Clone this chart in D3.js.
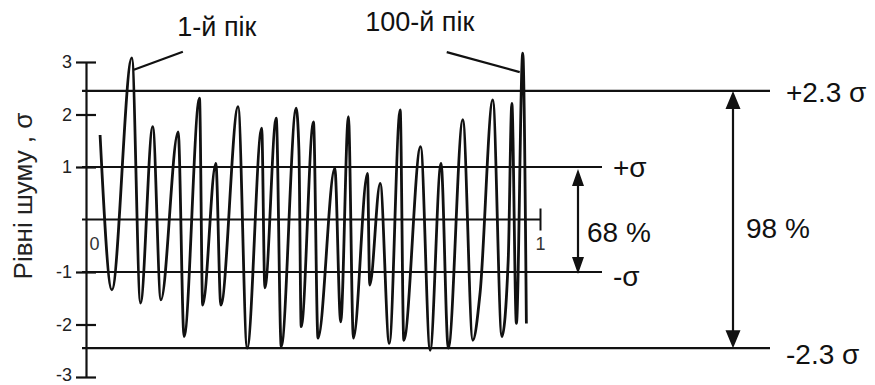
<!DOCTYPE html>
<html>
<head>
<meta charset="utf-8">
<script src="https://cdn.jsdelivr.net/npm/d3@7"></script>
<style>
  body { margin: 0; background: #fff; }
  svg { display: block; font-family: Arial, "Liberation Sans", sans-serif; }
</style>
</head>
<body>
<div id="chart"></div>
<script>
// шумовий процес: моменти часу (частка інтервалу 0..1) та рівні шуму, σ
const times = [0.031, 0.057, 0.101, 0.120, 0.147, 0.165, 0.203, 0.216, 0.250, 0.257,
    0.286, 0.297, 0.335, 0.355, 0.387, 0.394, 0.419, 0.430, 0.463, 0.469,
    0.474, 0.501, 0.511, 0.548, 0.561, 0.578, 0.589, 0.620, 0.625, 0.648,
    0.668, 0.692, 0.700, 0.737, 0.758, 0.782, 0.798, 0.830, 0.852, 0.868,
    0.896, 0.916, 0.930, 0.938, 0.948, 0.962, 0.970]
const levels = [1.61, -1.34, 3.08, -1.59, 1.77, -1.53, 1.67, -2.23, 2.31, -1.63,
    1.07, -1.63, 2.15, -2.45, 1.74, -1.30, 1.93, -2.42, 2.12, 1.32,
    -2.04, 1.86, -2.26, 0.98, -1.95, 1.96, -2.26, 0.88, -1.25, 0.69,
    -2.36, 2.09, -2.30, 1.39, -2.49, 1.07, -2.45, 1.90, -2.30, -1.40,
    2.28, -2.23, -0.77, 2.21, -1.98, 3.17, -1.98]

// осі
const yTicks = [-3, -2, -1, 1, 2, 3]
const timeTicks = [0, 1]
const yTitle = "Рівні шуму , σ"

// порогові лінії (положення так, як намальовано)
const sigmaLevels = [1, -1]
const sigmaLabels = ["+σ", "-σ"]
const wideLevels = [2.45, -2.45]
const wideLabels = ["+2.3 σ", "-2.3 σ"]
const shareLabels = ["68 %", "98 %"]

// піки з підписами
const peakIndex = [2, 45]
const peakNames = ["1-й пік", "100-й пік"]

const width = 875, height = 385
const ink = "#111"

const svg = d3.select("#chart").append("svg")
    .attr("width", width)
    .attr("height", height)

const x = d3.scaleLinear().domain([0, 1]).range([86, 540])
const y = d3.scaleLinear().domain([-3, 3]).range([377, 62])

// вісь рівнів
const yAxis = svg.append("g")
    .attr("transform", `translate(${x(0)},0)`)
    .call(d3.axisLeft(y).tickValues(yTicks).tickSize(10).tickSizeOuter(0).tickPadding(4).tickFormat(d => String(d)))
yAxis.select(".domain").attr("stroke", ink).attr("stroke-width", 2.2)
yAxis.selectAll(".tick line").attr("x1", 10).attr("stroke", ink).attr("stroke-width", 2.2)
yAxis.selectAll(".tick text").attr("fill", "#222").style("font-size", "18px")
    .filter(d => d === -3).attr("dy", "0.2em")

// вісь часу (нульовий рівень)
const tAxis = svg.append("g")
    .attr("transform", `translate(0,${y(0)})`)
    .call(d3.axisBottom(x).tickValues(timeTicks).tickSize(11).tickSizeOuter(0).tickPadding(7).tickFormat(d => String(d)))
tAxis.select(".domain").remove()
tAxis.selectAll(".tick line").attr("y1", -11).attr("stroke", ink).attr("stroke-width", 2)
    .filter(d => d === 0).remove()
tAxis.selectAll(".tick text").attr("fill", "#333").style("font-size", "18px")
    .filter(d => d === 0).attr("text-anchor", "start").attr("x", 3)

// горизонтальні лінії
const hline = (v, x2) => svg.append("line")
    .attr("x1", 82).attr("x2", x2)
    .attr("y1", y(v)).attr("y2", y(v))
    .attr("stroke", ink).attr("stroke-width", 2.2)
hline(0, x(1))
sigmaLevels.forEach(v => hline(v, 602))
wideLevels.forEach(v => hline(v, 770))

// підписи ліній
const label = (tx, ty, txt, size, anchor) => svg.append("text")
    .attr("x", tx).attr("y", ty).attr("dy", "0.35em")
    .attr("text-anchor", anchor || "start")
    .attr("fill", ink)
    .style("font-size", size + "px")
    .text(txt)
sigmaLabels.forEach((t, i) => label(613, y(sigmaLevels[i]) + (i ? 4 : 0), t, 28))
wideLabels.forEach((t, i) => label(786, y(wideLevels[i]) + (i ? 6 : 1), t, 28))

// стрілки з двома вістрями
function arrow(ax, ya, yb, hw, hl) {
    svg.append("line").attr("x1", ax).attr("x2", ax)
        .attr("y1", ya + hl - 2).attr("y2", yb - hl + 2)
        .attr("stroke", ink).attr("stroke-width", 2.2)
    svg.append("path")
        .attr("d", `M${ax},${ya}L${ax - hw / 2},${ya + hl}L${ax + hw / 2},${ya + hl}Z` +
            `M${ax},${yb}L${ax - hw / 2},${yb - hl}L${ax + hw / 2},${yb - hl}Z`)
        .attr("fill", ink)
}
arrow(578, y(sigmaLevels[0]) + 2, y(sigmaLevels[1]) + 2, 12, 17)
arrow(733, y(wideLevels[0]), y(wideLevels[1]), 15, 18)
label(587, y(0) + 13, shareLabels[0], 28)
label(746, y(0) + 9, shareLabels[1], 28)

// шумовий сигнал
const points = times.map((t, i) => [t, levels[i]])
svg.append("path")
    .datum(points)
    .attr("fill", "none")
    .attr("stroke", ink)
    .attr("stroke-width", 2.8)
    .attr("stroke-linejoin", "round")
    .attr("d", d3.line().x(d => x(d[0])).y(d => y(d[1])).curve(d3.curveMonotoneX))

// підписи піків
const leaders = [[[2, 12], [51, -6]], [[-3, 19], [-76, -1]]]
const nameOffsets = [[85, -22], [-103, -22]]
peakIndex.forEach((k, i) => {
    const px = x(times[k]), py = y(levels[k])
    const [a, b] = leaders[i]
    svg.append("line")
        .attr("x1", px + a[0]).attr("y1", py + a[1])
        .attr("x2", px + b[0]).attr("y2", py + b[1])
        .attr("stroke", ink).attr("stroke-width", 2.2)
    svg.append("text")
        .attr("x", px + nameOffsets[i][0]).attr("y", py + nameOffsets[i][1])
        .attr("text-anchor", "middle")
        .attr("fill", ink)
        .style("font-size", "27px")
        .text(peakNames[i])
})

// назва осі
svg.append("text")
    .attr("transform", `translate(32,196) rotate(-90)`)
    .attr("text-anchor", "middle")
    .attr("fill", "#222")
    .style("font-size", "26px")
    .text(yTitle)
</script>
</body>
</html>
